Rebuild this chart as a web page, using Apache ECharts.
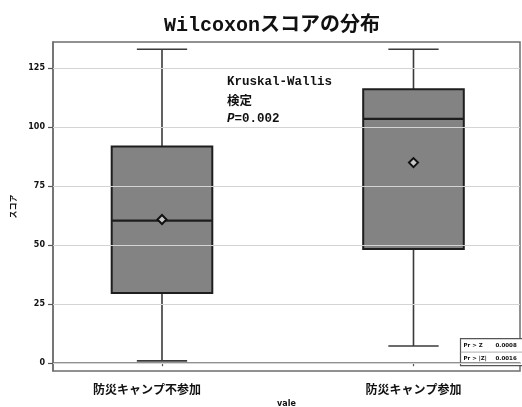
<!DOCTYPE html>
<html>
<head>
<meta charset="utf-8">
<script src="https://cdn.jsdelivr.net/npm/echarts@6/dist/echarts.min.js"></script>
<style>
  html, body { margin: 0; padding: 0; background: #fff; }
  #chart { width: 522px; height: 407px; }
</style>
</head>
<body>
<div id="chart"></div>
<script>
// Wilcoxon score distribution by group
const categories = ['防災キャンプ不参加', '防災キャンプ参加'];
const whiskerMin = [1, 7.3];
const quartile1 = [29.7, 48.4];
const medians = [60.4, 103.5];
const quartile3 = [91.8, 116.1];
const whiskerMax = [133, 133];
const means = [60.9, 85];
const yTicks = [0, 25, 50, 75, 100, 125];
const testLines = ['Kruskal-Wallis', '検定', 'P=0.002'];
const pLines = [['Pr > Z', '0.0008'], ['Pr > |Z|', '0.0016']];

const positions = categories.map((c, i) => i + 1);
const boxData = positions.map((p, i) => [p, whiskerMin[i], quartile1[i], medians[i], quartile3[i], whiskerMax[i]]);
const meanData = positions.map((p, i) => [p, means[i]]);

const chart = echarts.init(document.getElementById('chart'), null, { renderer: 'canvas' });

function renderBox(params, api) {
  const x = api.value(0);
  const half = api.size([0.4, 0])[0] / 2;
  const cap = api.size([0.2, 0])[0] / 2;
  const pMin = api.coord([x, api.value(1)]);
  const pQ1 = api.coord([x, api.value(2)]);
  const pMed = api.coord([x, api.value(3)]);
  const pQ3 = api.coord([x, api.value(4)]);
  const pMax = api.coord([x, api.value(5)]);
  const cx = pMed[0];
  const whisk = { stroke: '#3a3a3a', lineWidth: 1.6 };
  return {
    type: 'group',
    children: [
      { type: 'line', shape: { x1: cx, y1: pMax[1], x2: cx, y2: pQ3[1] }, style: whisk },
      { type: 'line', shape: { x1: cx, y1: pQ1[1], x2: cx, y2: pMin[1] }, style: whisk },
      { type: 'line', shape: { x1: cx - cap, y1: pMax[1], x2: cx + cap, y2: pMax[1] }, style: whisk },
      { type: 'line', shape: { x1: cx - cap, y1: pMin[1], x2: cx + cap, y2: pMin[1] }, style: whisk },
      { type: 'rect', shape: { x: cx - half, y: pQ3[1], width: half * 2, height: pQ1[1] - pQ3[1] },
        style: { fill: '#838383', stroke: '#1e1e1e', lineWidth: 2 } },
      { type: 'line', shape: { x1: cx - half, y1: pMed[1], x2: cx + half, y2: pMed[1] },
        style: { stroke: '#1e1e1e', lineWidth: 2.2 } }
    ]
  };
}

const option = {
  backgroundColor: '#fff',
  animation: false,
  title: {
    text: 'Wilcoxonスコアの分布',
    left: 267,
    textAlign: 'center',
    top: 11,
    textStyle: { fontFamily: '"Liberation Mono", "Noto Sans CJK JP", monospace', fontSize: 20, fontWeight: 'bold', color: '#111' }
  },
  grid: {
    left: 53, right: 2, top: 42, bottom: 36,
    outerBoundsMode: 'none',
    containLabel: false,
    show: true, borderColor: '#6e6e6e', borderWidth: 1.5, backgroundColor: '#fff'
  },
  xAxis: {
    type: 'value',
    min: 0.5666, max: 2.4235,
    name: 'vale',
    nameLocation: 'middle',
    nameGap: 29,
    nameTextStyle: { fontSize: 8, fontWeight: 'bold', color: '#111', fontFamily: '"DejaVu Sans", sans-serif' },
    axisLine: { show: true, lineStyle: { color: '#6e6e6e', width: 1.5 } },
    axisTick: { show: true, customValues: positions, length: 3, lineStyle: { color: '#555', width: 1.2 } },
    axisLabel: {
      customValues: positions,
      margin: 12,
      formatter: v => {
        const i = Math.round(v) - 1;
        return i === 0 ? '{a|' + categories[i] + '}' : '{b|' + categories[i] + '}';
      },
      rich: {
        a: { fontSize: 12, fontWeight: 'bold', color: '#111', fontFamily: '"Noto Sans CJK JP", sans-serif', padding: [0, 30, 0, 0] },
        b: { fontSize: 12, fontWeight: 'bold', color: '#111', fontFamily: '"Noto Sans CJK JP", sans-serif' }
      }
    },
    splitLine: { show: false }
  },
  yAxis: {
    type: 'value',
    min: -3.3, max: 136.1,
    name: 'スコア',
    nameLocation: 'middle',
    nameGap: 35,
    nameRotate: 90,
    nameTextStyle: { fontSize: 8, fontWeight: 'bold', color: '#111', fontFamily: '"Noto Sans CJK JP", sans-serif' },
    axisLine: { show: true, lineStyle: { color: '#6e6e6e', width: 1.5 } },
    axisTick: { show: true, customValues: yTicks, length: 5, lineStyle: { color: '#555', width: 1.2 } },
    axisLabel: {
      customValues: yTicks,
      margin: 8,
      fontSize: 8, fontWeight: 'bold', color: '#111',
      fontFamily: '"DejaVu Sans", sans-serif'
    },
    splitLine: { show: false }
  },
  graphic: [
    {
      type: 'text', left: 227, top: 75,
      style: {
        text: '{m|' + testLines[0] + '}\n{c|' + testLines[1] + '}\n{i|P}{m|' + testLines[2].slice(1) + '}',
        rich: {
          m: { fontFamily: '"Liberation Mono", monospace', fontSize: 12.5, fontWeight: 'bold', fill: '#111', lineHeight: 18.5 },
          c: { fontFamily: '"Noto Sans CJK JP", sans-serif', fontSize: 12.5, fontWeight: 'bold', fill: '#111', lineHeight: 18.5 },
          i: { fontFamily: '"Liberation Mono", monospace', fontSize: 12.5, fontWeight: 'bold', fontStyle: 'italic', fill: '#111', lineHeight: 18.5 }
        }
      }
    },
    {
      type: 'group', left: 458, top: 338, z: 100,
      children: [
        { type: 'rect', shape: { x: 0, y: 0, width: 63, height: 27 }, style: { fill: '#fff', stroke: '#555', lineWidth: 1.2 } },
        { type: 'text', x: 3, y: 4, style: { text: pLines[0][0], font: 'bold 5.5px "DejaVu Sans"', fill: '#111' } },
        { type: 'text', x: 35, y: 4, style: { text: pLines[0][1], font: 'bold 5.5px "DejaVu Sans"', fill: '#111' } },
        { type: 'text', x: 3, y: 17, style: { text: pLines[1][0], font: 'bold 5.5px "DejaVu Sans"', fill: '#111' } },
        { type: 'text', x: 35, y: 17, style: { text: pLines[1][1], font: 'bold 5.5px "DejaVu Sans"', fill: '#111' } },
        { type: 'line', shape: { x1: 0, y1: 13.5, x2: 63, y2: 13.5 }, style: { stroke: '#999', lineWidth: 0.8 } }
      ]
    }
  ],
  series: [
    {
      // horizontal reference lines at each labelled score
      type: 'line',
      data: [],
      silent: true,
      z: 1,
      markLine: {
        silent: true,
        symbol: 'none',
        label: { show: false },
        lineStyle: { color: '#d4d4d4', width: 1.2, type: 'solid' },
        data: yTicks.map(v => ({ yAxis: v }))
      }
    },
    {
      type: 'custom',
      renderItem: renderBox,
      data: boxData,
      encode: { x: 0, y: [1, 2, 3, 4, 5] },
      z: 3
    },
    {
      type: 'scatter',
      data: meanData,
      symbol: 'diamond',
      symbolSize: 9,
      itemStyle: { color: '#c8c8c8', borderColor: '#111', borderWidth: 2, opacity: 1 },
      z: 4
    }
  ]
};

chart.setOption(option);
</script>
</body>
</html>
